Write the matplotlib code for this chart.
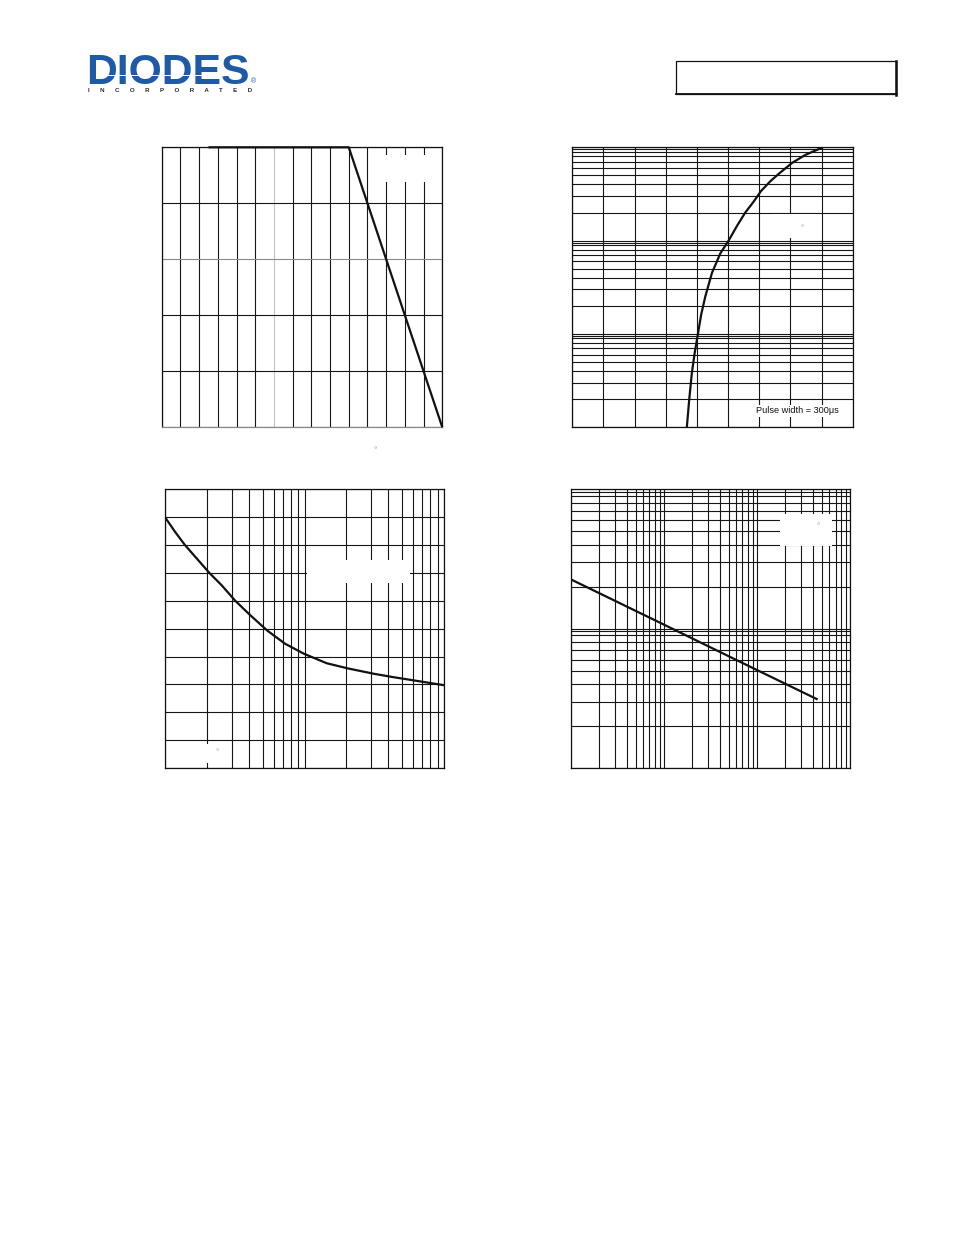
import numpy as np
import matplotlib
matplotlib.use('Agg')
import matplotlib.pyplot as plt
from matplotlib.patches import Rectangle
from matplotlib.lines import Line2D
from matplotlib.ticker import LogLocator, NullFormatter

# ---------------- data ----------------
# Fig 1: power derating
temp_c = [25, 100, 150]
power_mw = [250, 250, 0]
temp_ticks = list(range(0, 151, 10))
power_ticks = list(range(0, 251, 50))

# Fig 2: forward characteristics
vf_v = [0.735, 0.750, 0.767, 0.785, 0.806, 0.827, 0.853, 0.896, 0.95, 1.003,
        1.057, 1.11, 1.164, 1.211, 1.271, 1.325, 1.41, 1.496, 1.608]
if_ma = [0.1, 0.196, 0.38, 0.62, 1.0, 1.61, 2.5, 4.5, 7.3, 10,
         14.4, 20, 26.2, 34, 43.3, 52, 68, 83, 100]
vf_ticks = [0.0, 0.2, 0.4, 0.6, 0.8, 1.0, 1.2, 1.4, 1.6, 1.8]
pulse_note = "Pulse width = 300\u03bcs"

# Fig 3: capacitance vs reverse voltage
vr_v = [1, 1.18, 1.39, 1.69, 2.08, 2.55, 3.19, 4.07, 5.41, 7.25, 9.9, 14.4,
        20.6, 31.5, 43.3, 54.6, 75.1, 100]
ct_pf = [1.8, 1.695, 1.6, 1.503, 1.4, 1.311, 1.2, 1.098, 0.986, 0.892, 0.82, 0.752,
         0.714, 0.676, 0.652, 0.636, 0.614, 0.594]
ct_ticks = [round(0.2 * i, 1) for i in range(11)]

# Fig 4: log-log straight characteristic
x4 = [1, 10, 100, 450]
y4 = [22.6, 10.7, 5.05, 3.1]

# ---------------- figure ----------------
W, H = 954, 1235
fig = plt.figure(figsize=(W / 100, H / 100), dpi=100)
plt.rcParams['font.family'] = ['Liberation Sans', 'DejaVu Sans']

def rect(x0, y0, x1, y1):
    return [x0 / W, 1 - y1 / H, (x1 - x0) / W, (y1 - y0) / H]

def fx(x):
    return x / W

def fy(y):
    return 1 - y / H

GRID = dict(color='#161616', linewidth=0.8)
LINE = dict(color='#111111', linewidth=1.6, solid_capstyle='butt', solid_joinstyle='round')

def style(ax):
    ax.tick_params(which='both', length=0, labelbottom=False, labelleft=False)
    ax.xaxis.set_minor_formatter(NullFormatter())
    ax.yaxis.set_minor_formatter(NullFormatter())
    for s in ax.spines.values():
        s.set_linewidth(0.9)
        s.set_color('#111111')
    ax.set_axisbelow(True)

def logaxis(axis):
    axis.set_major_locator(LogLocator(base=10, numticks=10))
    axis.set_minor_locator(LogLocator(base=10, subs=np.arange(2, 10), numticks=30))

# ---- Fig 1 ----
ax1 = fig.add_axes(rect(161.7, 147.3, 442.3, 427.3))
ax1.plot(temp_c, power_mw, **LINE, clip_on=False, zorder=3)
ax1.set_xlim(0, 150)
ax1.set_ylim(0, 250)
ax1.set_xticks(temp_ticks)
ax1.set_yticks(power_ticks)
ax1.grid(True, **GRID)
style(ax1)
ax1.get_xgridlines()[6].set_color('#c4c4c4')
ax1.get_ygridlines()[3].set_color('#8a8a8a')
ax1.spines['bottom'].set_color('#8a8a8a')

# ---- Fig 2 ----
ax2 = fig.add_axes(rect(572.3, 147.3, 852.8, 427.3))
ax2.plot(vf_v, if_ma, **LINE, zorder=3)
ax2.set_yscale('log')
ax2.set_xlim(0, 1.8)
ax2.set_ylim(0.1, 100)
ax2.set_xticks(vf_ticks)
logaxis(ax2.yaxis)
ax2.grid(True, which='both', **GRID)
for d in [1, 10, 100]:
    ax2.axhline(d * 0.95, zorder=0.5, **GRID)
style(ax2)
ax2.text(0.95, 0.05, pulse_note, transform=ax2.transAxes, ha='right', va='baseline',
         fontsize=6.6, color='#111111', zorder=4,
         bbox=dict(boxstyle='square,pad=0.15', fc='white', ec='none'))

# ---- Fig 3 ----
ax3 = fig.add_axes(rect(165, 489.3, 444, 768))
ax3.plot(vr_v, ct_pf, **LINE, zorder=3)
ax3.set_xscale('log')
ax3.set_xlim(1, 100)
ax3.set_ylim(0, 2.0)
ax3.set_yticks(ct_ticks)
logaxis(ax3.xaxis)
ax3.grid(True, which='both', **GRID)
style(ax3)

# ---- Fig 4 ----
ax4 = fig.add_axes(rect(570.7, 489.3, 850, 768))
ax4.plot(x4, y4, **LINE, zorder=3)
ax4.set_xscale('log')
ax4.set_yscale('log')
ax4.set_xlim(1, 1000)
ax4.set_ylim(1, 100)
logaxis(ax4.xaxis)
logaxis(ax4.yaxis)
ax4.grid(True, which='both', **GRID)
for d in [10, 100]:
    ax4.axhline(d * 0.96, zorder=0.5, **GRID)
style(ax4)

# ---- white (blank legend) boxes ----
for (x0, y0, x1, y1) in [(372, 155, 438, 182), (772, 213.5, 818, 238),
                         (306.7, 560, 410, 583.3), (185, 743.5, 230, 762.5),
                         (780, 514, 832, 546)]:
    fig.add_artist(Rectangle((fx(x0), fy(y1)), (x1 - x0) / W, (y1 - y0) / H,
                             transform=fig.transFigure, fc='white', ec='none', zorder=10))

# degree signs left over from labels
for (x, y) in [(375, 451), (801.7, 229), (217.3, 753), (817.7, 526.5)]:
    fig.text(fx(x), fy(y), '\u00b0', ha='center', va='center', fontsize=6,
             color='#9a9a9a', zorder=11)

# ---- logo ----
BLUE = '#1f5aa6'
fig.text(fx(86), fy(83.5), 'DIODES', ha='left', va='baseline', fontsize=30.8,
         fontweight='bold', color=BLUE)
fig.add_artist(Line2D([fx(104), fx(236)], [fy(74.5), fy(74.5)], transform=fig.transFigure,
                      color='white', linewidth=0.7, zorder=12))
fig.text(fx(254), fy(83), '\u00ae', ha='center', va='baseline', fontsize=5, color=BLUE)
fig.text(fx(88), fy(92), '      '.join('INCORPORATED'), ha='left', va='baseline',
         fontsize=4.45, fontweight='bold', color='#2a2a2a')

# ---- header box ----
fig.add_artist(Rectangle((fx(675.7), fy(94)), (896 - 675.7) / W, (94 - 61) / H,
                         transform=fig.transFigure, fc='none', ec='#111111', lw=0.9))
fig.add_artist(Line2D([fx(896.2), fx(896.2)], [fy(61), fy(94.6)], transform=fig.transFigure,
                      color='#111111', linewidth=1.8))
fig.add_artist(Line2D([fx(675.7), fx(897)], [fy(94.3), fy(94.3)], transform=fig.transFigure,
                      color='#111111', linewidth=1.3))

fig.savefig('out.png', dpi=100, facecolor='white')
